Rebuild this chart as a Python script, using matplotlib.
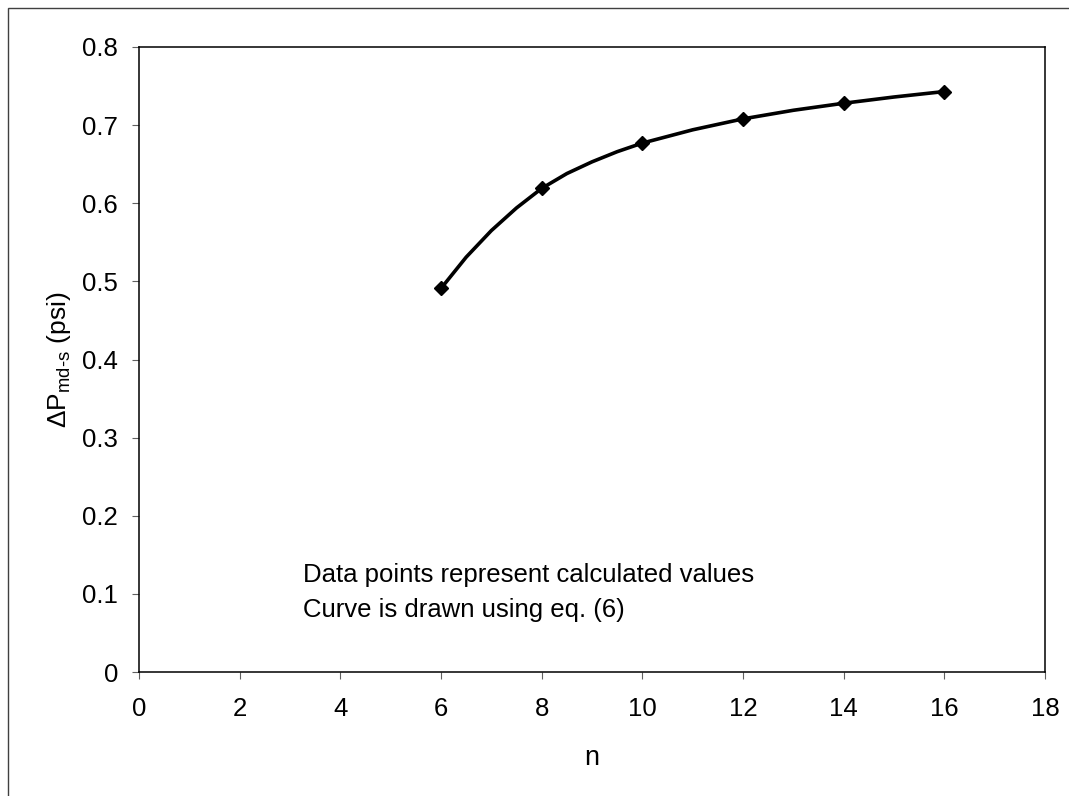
"""
Pressure drop versus n: calculated points and the eq. (6) curve
"""
import matplotlib
matplotlib.use('Agg')
import matplotlib.pyplot as plt
from matplotlib.patches import Rectangle

# calculated values (markers)
n_points = [6, 8, 10, 12, 14, 16]
dp_points = [0.491, 0.619, 0.677, 0.708, 0.728, 0.743]

# curve from eq. (6)
n_curve = [6, 6.5, 7, 7.5, 8, 8.5, 9, 9.5, 10, 11, 12, 13, 14, 15, 16]
dp_curve = [0.491, 0.531, 0.565, 0.594, 0.619, 0.638, 0.653, 0.666, 0.677,
            0.694, 0.708, 0.719, 0.728, 0.736, 0.743]

x_ticks = list(range(0, 19, 2))
y_ticks = [0, 0.1, 0.2, 0.3, 0.4, 0.5, 0.6, 0.7, 0.8]
y_tick_labels = ['0', '0.1', '0.2', '0.3', '0.4', '0.5', '0.6', '0.7', '0.8']

note_lines = ['Data points represent calculated values',
              'Curve is drawn using eq. (6)']

plt.rcParams['font.family'] = ['Liberation Sans', 'DejaVu Sans']
plt.rcParams['mathtext.fontset'] = 'custom'
plt.rcParams['mathtext.rm'] = 'Liberation Sans'

fig = plt.figure(figsize=(10.69, 7.96), dpi=100)
ax = fig.add_axes([139 / 1069, 124 / 796, 906 / 1069, 625 / 796])

# outer frame (only left and top edges visible in the crop)
fig.add_artist(Rectangle((7.5 / 1069, -0.1), 1.2, (788.5 / 796) + 0.1,
                         transform=fig.transFigure, fill=False,
                         edgecolor='#404040', linewidth=1.0))

ax.plot(n_curve, dp_curve, color='black', linewidth=2.6, zorder=2,
        solid_joinstyle='round')
ax.plot(n_points, dp_points, linestyle='none', marker='D', markersize=7.5,
        color='black', zorder=3)

ax.set_xlim(0, 18)
ax.set_ylim(0, 0.8)
ax.set_xticks(x_ticks)
ax.set_yticks(y_ticks)
ax.set_yticklabels(y_tick_labels)

for s in ax.spines.values():
    s.set_linewidth(1.1)
    s.set_color('black')

ax.tick_params(axis='both', direction='out', length=5, width=0.8,
               color='#606060', labelsize=18.5)
ax.tick_params(axis='x', pad=13)
ax.tick_params(axis='y', pad=10)

ax.set_xlabel('n', fontsize=19.5, labelpad=17)
ax.set_ylabel(r'ΔP$_{\text{md-s}}$ (psi)', fontsize=19, labelpad=7)

ax.text(3.26, 0.115, note_lines[0], fontsize=18.5, va='baseline')
ax.text(3.26, 0.0705, note_lines[1], fontsize=18.5, va='baseline')

fig.savefig('out.png', dpi=100)
